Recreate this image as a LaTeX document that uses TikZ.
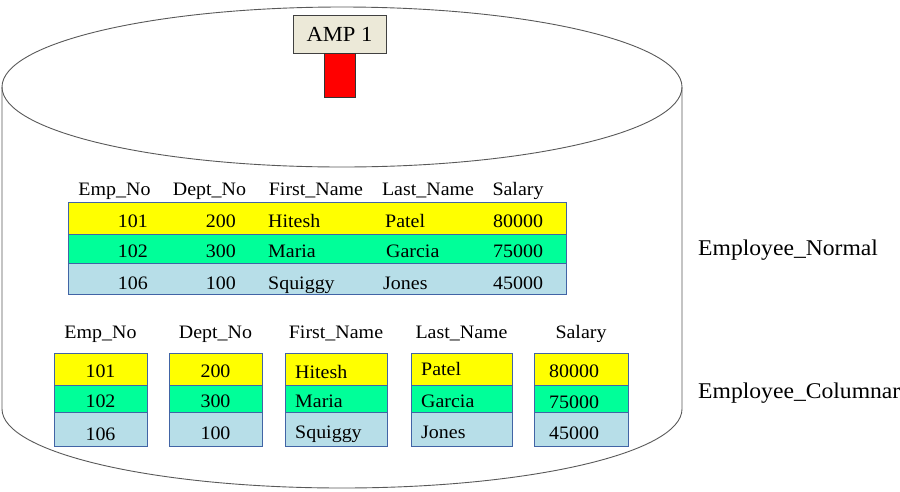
\documentclass[tikz,border=0pt]{standalone}
\usepackage{fontspec}
\setmainfont{Liberation Serif}[FakeStretch=1.05]
\usetikzlibrary{positioning}

\definecolor{rowyellow}{RGB}{255,255,0}
\definecolor{rowgreen}{RGB}{0,255,153}
\definecolor{rowblue}{RGB}{183,222,232}
\definecolor{cellline}{RGB}{65,100,165}
\definecolor{ampgray}{RGB}{236,233,216}

\begin{document}
\begin{tikzpicture}[x=1pt,y=-1pt,font=\fontsize{19}{21}\selectfont,
  cyl/.style={draw=black!65,line width=0.9pt},
  cell/.style={draw=cellline,line width=0.9pt},
  txt/.style={inner sep=0pt,anchor=base},
  lft/.style={inner sep=0pt,anchor=base west},
  rgt/.style={inner sep=0pt,anchor=base east},
  tblname/.style={inner sep=0pt,anchor=base west,font=\fontsize{22.5}{24}\selectfont}]
\useasboundingbox (0,0) rectangle (900,491);

% disk
\draw[cyl] (2,87) -- (2,409) arc[start angle=180,end angle=360,x radius=340pt,y radius=79pt] -- (682,87);
\draw[cyl] (342,87) ellipse [x radius=340pt,y radius=80pt];

% amp
\node[draw=black!75,fill=ampgray,line width=0.9pt,minimum width=93pt,minimum height=38pt,inner sep=0pt,
  font=\fontsize{21.5}{23}\selectfont] (amp) at (339.5,34) {AMP 1};
\node[draw=black!80,fill=red,line width=0.8pt,minimum width=31pt,minimum height=44pt,inner sep=0pt,
  below=0pt of amp] (ampdisk) {};

% normal table
\draw[cell,fill=rowyellow] (68,202) rectangle (566,234);
\draw[cell,fill=rowgreen] (68,234) rectangle (566,263);
\draw[cell,fill=rowblue] (68,263) rectangle (566,294);
\node[txt] (nh1) at (114.5,195) {Emp\_No};
\node[txt] (nh2) at (209.5,195) {Dept\_No};
\node[txt] (nh3) at (316,195) {First\_Name};
\node[txt] (nh4) at (428,195) {Last\_Name};
\node[txt] (nh5) at (518,195) {Salary};
\node[rgt] (n11) at (148,227) {101};
\node[rgt] (n12) at (236,227) {200};
\node[lft] (n13) at (268,227) {Hitesh};
\node[lft] (n14) at (385,227) {Patel};
\node[lft] (n15) at (493,227) {80000};
\node[rgt] (n21) at (148,257) {102};
\node[rgt] (n22) at (236,257) {300};
\node[lft] (n23) at (268,257) {Maria};
\node[lft] (n24) at (386,257) {Garcia};
\node[lft] (n25) at (493,257) {75000};
\node[rgt] (n31) at (148,289) {106};
\node[rgt] (n32) at (236,289) {100};
\node[lft] (n33) at (268,289) {Squiggy};
\node[lft] (n34) at (383,289) {Jones};
\node[lft] (n35) at (493,289) {45000};
\node[tblname] (normal) at (698,255) {Employee\_Normal};

% columnar tables
\draw[cell,fill=rowyellow] (54,353) rectangle (147,385);
\draw[cell,fill=rowgreen] (54,385) rectangle (147,412);
\draw[cell,fill=rowblue] (54,412) rectangle (147,446);
\draw[cell,fill=rowyellow] (169,353) rectangle (262,385);
\draw[cell,fill=rowgreen] (169,385) rectangle (262,412);
\draw[cell,fill=rowblue] (169,412) rectangle (262,446);
\draw[cell,fill=rowyellow] (285,353) rectangle (387,385);
\draw[cell,fill=rowgreen] (285,385) rectangle (387,412);
\draw[cell,fill=rowblue] (285,412) rectangle (387,446);
\draw[cell,fill=rowyellow] (411,353) rectangle (512,385);
\draw[cell,fill=rowgreen] (411,385) rectangle (512,412);
\draw[cell,fill=rowblue] (411,412) rectangle (512,446);
\draw[cell,fill=rowyellow] (534,353) rectangle (628,385);
\draw[cell,fill=rowgreen] (534,385) rectangle (628,412);
\draw[cell,fill=rowblue] (534,412) rectangle (628,446);
\node[txt] (ch1) at (100.5,338) {Emp\_No};
\node[txt] (ch2) at (215.5,338) {Dept\_No};
\node[txt] (ch3) at (336,338) {First\_Name};
\node[txt] (ch4) at (461.5,338) {Last\_Name};
\node[txt] (ch5) at (581,338) {Salary};
\node[txt] (c11) at (100.5,377) {101};
\node[txt] (c12) at (215.5,377) {200};
\node[lft] (c13) at (295,378) {Hitesh};
\node[lft] (c14) at (421,375) {Patel};
\node[lft] (c15) at (549,377) {80000};
\node[txt] (c21) at (100.5,407) {102};
\node[txt] (c22) at (215.5,407) {300};
\node[lft] (c23) at (295,407) {Maria};
\node[lft] (c24) at (421,407) {Garcia};
\node[lft] (c25) at (549,408) {75000};
\node[txt] (c31) at (100.5,440) {106};
\node[txt] (c32) at (215.5,439) {100};
\node[lft] (c33) at (295,438) {Squiggy};
\node[lft] (c34) at (421,438) {Jones};
\node[lft] (c35) at (549,439) {45000};
\node[tblname] (columnar) at (698,398) {Employee\_Columnar};
\end{tikzpicture}
\end{document}
